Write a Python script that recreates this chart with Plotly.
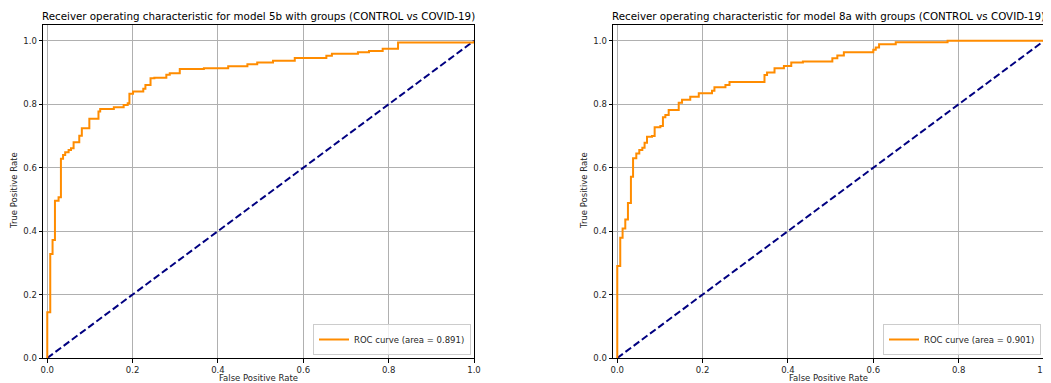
import plotly.graph_objects as go

# ROC step corner points
fpr_5b = [0.0, 0.0, 0.007, 0.007, 0.0124, 0.0124, 0.018, 0.018, 0.0265, 0.0265,
          0.032, 0.032, 0.037, 0.037, 0.042, 0.042, 0.050, 0.050, 0.0556, 0.0556,
          0.0617, 0.0617, 0.075, 0.075, 0.081, 0.081, 0.0986, 0.0986, 0.120, 0.120,
          0.124, 0.124, 0.156, 0.156, 0.179, 0.179, 0.1885, 0.1885, 0.1925, 0.1925,
          0.201, 0.201, 0.225, 0.225, 0.230, 0.230, 0.242, 0.242, 0.251, 0.251,
          0.279, 0.279, 0.287, 0.287, 0.3105, 0.3105, 0.367, 0.367, 0.424, 0.424,
          0.469, 0.469, 0.492, 0.492, 0.529, 0.529, 0.580, 0.580, 0.654, 0.654,
          0.667, 0.667, 0.728, 0.728, 0.754, 0.754, 0.786, 0.786, 0.822, 0.822,
          1.0, 1.0]
tpr_5b = [0.0, 0.144, 0.144, 0.328, 0.328, 0.372, 0.372, 0.496, 0.496, 0.507,
          0.507, 0.628, 0.628, 0.640, 0.640, 0.649, 0.649, 0.656, 0.656, 0.661,
          0.661, 0.680, 0.680, 0.701, 0.701, 0.7245, 0.7245, 0.754, 0.754, 0.777,
          0.777, 0.785, 0.785, 0.791, 0.791, 0.798, 0.798, 0.803, 0.803, 0.833,
          0.833, 0.840, 0.840, 0.8486, 0.8486, 0.861, 0.861, 0.882, 0.882, 0.884,
          0.884, 0.893, 0.893, 0.898, 0.898, 0.911, 0.911, 0.914, 0.914, 0.920,
          0.920, 0.926, 0.926, 0.9316, 0.9316, 0.937, 0.937, 0.946, 0.946, 0.953,
          0.953, 0.959, 0.959, 0.9643, 0.9643, 0.968, 0.968, 0.975, 0.975, 0.995,
          0.995, 1.0]

fpr_8a = [0.0, 0.0, 0.007, 0.007, 0.0125, 0.0125, 0.0188, 0.0188, 0.025, 0.025,
          0.032, 0.032, 0.037, 0.037, 0.0446, 0.0446, 0.0516, 0.0516, 0.0587, 0.0587,
          0.064, 0.064, 0.0697, 0.0697, 0.0814, 0.0814, 0.0876, 0.0876, 0.101, 0.101,
          0.107, 0.107, 0.1127, 0.1127, 0.1205, 0.1205, 0.144, 0.144, 0.1518, 0.1518,
          0.171, 0.171, 0.191, 0.191, 0.222, 0.222, 0.2277, 0.2277, 0.2535, 0.2535,
          0.263, 0.263, 0.345, 0.345, 0.351, 0.351, 0.3685, 0.3685, 0.3905, 0.3905,
          0.4077, 0.4077, 0.435, 0.435, 0.504, 0.504, 0.5157, 0.5157, 0.531, 0.531,
          0.600, 0.600, 0.6057, 0.6057, 0.6135, 0.6135, 0.6526, 0.6526, 0.774, 0.774,
          1.0]
tpr_8a = [0.0, 0.290, 0.290, 0.379, 0.379, 0.4086, 0.4086, 0.437, 0.437, 0.489,
          0.489, 0.5715, 0.5715, 0.6296, 0.6296, 0.645, 0.645, 0.656, 0.656, 0.663,
          0.663, 0.679, 0.679, 0.698, 0.698, 0.700, 0.700, 0.7274, 0.7274, 0.7316,
          0.7316, 0.759, 0.759, 0.766, 0.766, 0.782, 0.782, 0.805, 0.805, 0.814,
          0.814, 0.824, 0.824, 0.835, 0.835, 0.843, 0.843, 0.854, 0.854, 0.861,
          0.861, 0.870, 0.870, 0.8926, 0.8926, 0.900, 0.900, 0.914, 0.914, 0.921,
          0.921, 0.9316, 0.9316, 0.935, 0.935, 0.9454, 0.9454, 0.9536, 0.9536, 0.964,
          0.964, 0.9716, 0.9716, 0.979, 0.979, 0.9895, 0.9895, 0.9958, 0.9958, 1.0,
          1.0]

auc_values = [0.891, 0.901]
model_names = ["5b", "8a"]
chance_x = [0.0, 1.0]
chance_y = [0.0, 1.0]
tick_vals = [0.0, 0.2, 0.4, 0.6, 0.8, 1.0]
tick_text = ["0.0", "0.2", "0.4", "0.6", "0.8", "1.0"]

# The page body adds an 8px margin; size the figure so screen px = fig px + 8
OFF = 8
W, H = 1051 - OFF, 383 - OFF
FONT = "DejaVu Sans"
TXT = "#262626"
FS = 8.5


def px(v):
    return (v - OFF) / W


def py(v):
    return 1 - (v - OFF) / H


fig = go.Figure()

curves = [(fpr_5b, tpr_5b), (fpr_8a, tpr_8a)]
for i, (fx, ty) in enumerate(curves):
    xa = "x" if i == 0 else "x2"
    ya = "y" if i == 0 else "y2"
    lg = "legend" if i == 0 else "legend2"
    fig.add_trace(go.Scatter(
        x=chance_x, y=chance_y, mode="lines", xaxis=xa, yaxis=ya,
        line=dict(color="#000080", width=2, dash="7px,3.2px"),
        showlegend=False, hoverinfo="skip"))
    fig.add_trace(go.Scatter(
        x=fx, y=ty, mode="lines", xaxis=xa, yaxis=ya, legend=lg,
        line=dict(color="#ff8c00", width=2),
        name=f"ROC curve (area = {auc_values[i]:.3f})"))

common = dict(
    tickvals=tick_vals, ticktext=tick_text,
    showgrid=True, gridcolor="#b0b0b0", gridwidth=0.8,
    showline=True, linecolor="#000000", linewidth=1, mirror=True,
    ticks="outside", ticklen=3.5, tickwidth=0.8, tickcolor="#000000",
    tickfont=dict(family=FONT, size=FS, color=TXT),
    zeroline=False, automargin=False,
)

ydom = [py(358), py(25)]
leg_common = dict(
    xanchor="right", y=py(355), yanchor="bottom",
    bgcolor="rgba(255,255,255,0.8)", bordercolor="#cccccc", borderwidth=1,
    tracegroupgap=0, itemwidth=30,
    font=dict(family=FONT, size=FS, color=TXT),
)
fig.update_layout(
    width=W, height=H,
    margin=dict(l=0, r=0, t=0, b=0),
    paper_bgcolor="white", plot_bgcolor="white",
    font=dict(family=FONT, color=TXT),
    xaxis=dict(domain=[px(43), px(474)], anchor="y", range=[-0.01, 1.0], **common),
    yaxis=dict(domain=ydom, anchor="x", range=[0.0, 1.05], **common),
    xaxis2=dict(domain=[px(613), px(1044)], anchor="y2", range=[-0.01, 1.0], **common),
    yaxis2=dict(domain=ydom, anchor="x2", range=[0.0, 1.05], **common),
    legend=dict(x=px(471), **leg_common),
    legend2=dict(x=px(1041), **leg_common),
    showlegend=True,
)

titles = [f"Receiver operating characteristic for model {m} with groups (CONTROL vs COVID-19)" for m in model_names]
for i, t in enumerate(titles):
    x0, x1 = (43, 474) if i == 0 else (613, 1044)
    fig.add_annotation(
        text=t, xref="paper", yref="paper", x=px((x0 + x1) / 2), y=py(16),
        xanchor="center", yanchor="middle", showarrow=False,
        font=dict(family=FONT, size=10.3, color="#000000"))

for i in range(2):
    x0, x1 = (43, 474) if i == 0 else (613, 1044)
    fig.add_annotation(text="False Positive Rate", xref="paper", yref="paper",
                       x=px((x0 + x1) / 2), y=py(377.5), xanchor="center", yanchor="middle",
                       showarrow=False, font=dict(family=FONT, size=FS, color=TXT))
    fig.add_annotation(text="True Positive Rate", xref="paper", yref="paper",
                       x=px(14 if i == 0 else 584), y=py(191), xanchor="center", yanchor="middle",
                       textangle=-90, showarrow=False, font=dict(family=FONT, size=FS, color=TXT))

fig.write_html("out.html")
